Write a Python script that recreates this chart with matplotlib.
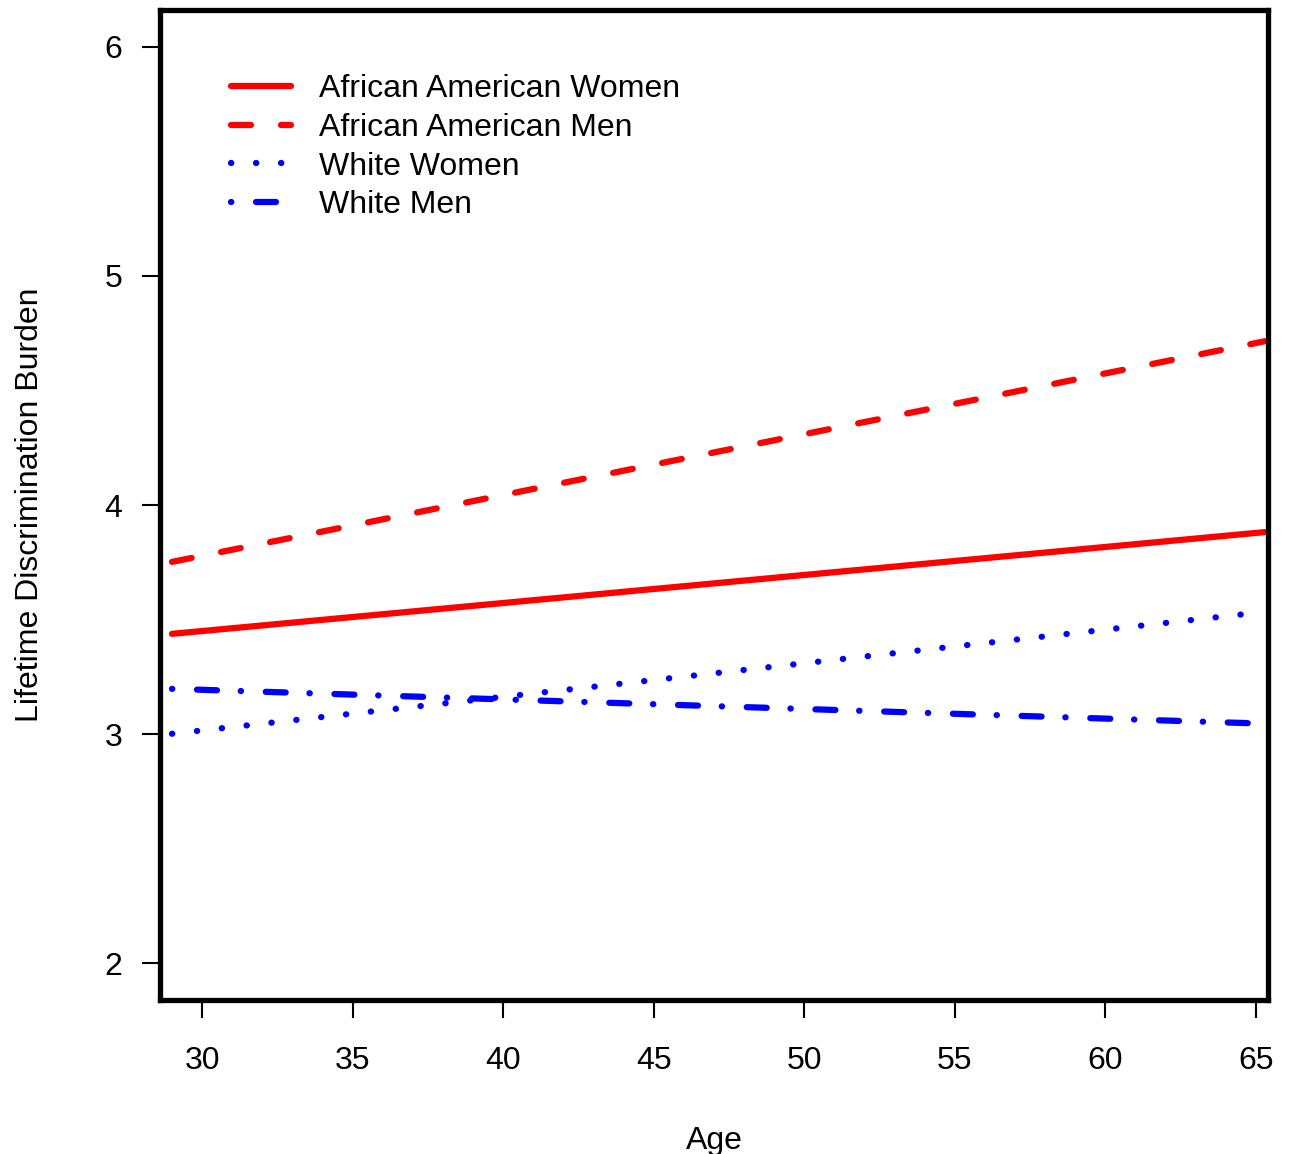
import matplotlib
matplotlib.use("Agg")
import matplotlib.pyplot as plt
import numpy as np

plt.rcParams['font.family'] = ['Liberation Sans', 'DejaVu Sans']

age = [29.0, 65.3]
aa_women = [3.438, 3.882]
aa_men = [3.752, 4.715]
white_women = [3.002, 3.534]
white_men = [3.198, 3.046]
labels = ["African American Women", "African American Men", "White Women", "White Men"]
xticks = [30, 35, 40, 45, 50, 55, 60, 65]
yticks = [2, 3, 4, 5, 6]

fig = plt.figure(figsize=(12.89, 11.54), dpi=100)
ax = fig.add_axes([0.1241, 0.1334, 0.8596, 0.8579])

lw = 4.5
ax.plot(age, aa_women, color='red', lw=lw, solid_capstyle='round', label=labels[0])
ax.plot(age, aa_men, color='red', lw=lw, dashes=(3.2, 4.8), dash_capstyle='round', label=labels[1])
ax.plot(age, white_women, color='blue', lw=lw, dashes=(0.05, 3.95), dash_capstyle='round', label=labels[2])
ax.plot(age, white_men, color='blue', lw=lw, dashes=(0.05, 3.95, 3.2, 3.8), dash_capstyle='round', label=labels[3])

ax.set_xlim(28.6, 65.4)
ax.set_ylim(1.84, 6.16)
ax.set_xticks(xticks)
ax.set_yticks(yticks)
fs = 23
ax.tick_params(axis='both', direction='out', length=13, width=1.5, labelsize=fs, colors='black')
ax.tick_params(axis='x', pad=20)
ax.tick_params(axis='y', pad=14)
for s in ax.spines.values():
    s.set_linewidth(3.8)

ax.set_xlabel("Age", fontsize=fs, labelpad=36)
ax.set_ylabel("Lifetime Discrimination Burden", fontsize=fs, labelpad=43)

leg = ax.legend(loc='upper left', bbox_to_anchor=(0.064, 0.935), frameon=False, fontsize=fs,
                handlelength=1.88, handletextpad=0.88, labelspacing=0.27, borderpad=0, borderaxespad=0)

fig.savefig("out.png", dpi=100)
